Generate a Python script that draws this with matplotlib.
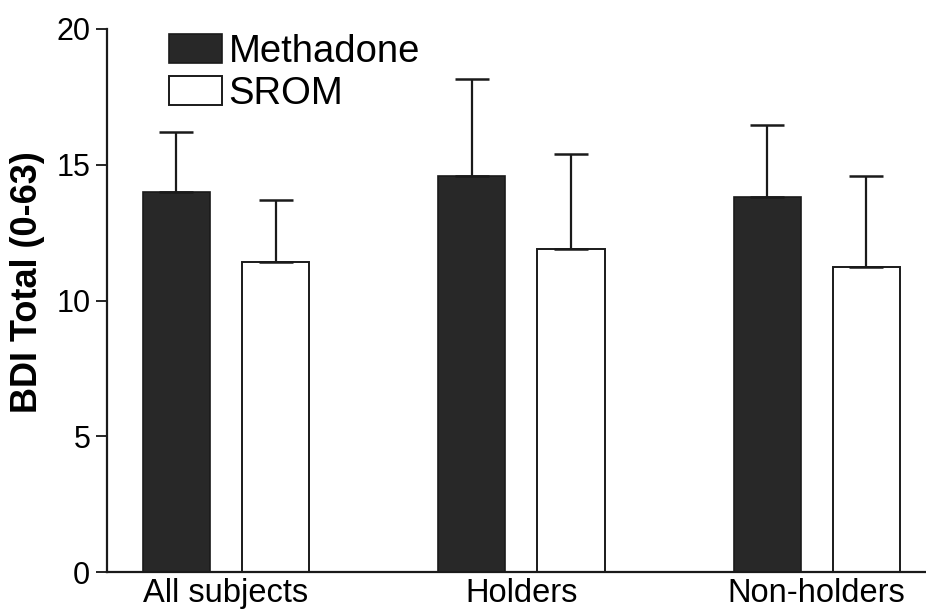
import numpy as np
import matplotlib.pyplot as plt

plt.rcParams['font.family'] = ['Liberation Sans', 'DejaVu Sans']

groups = ["All subjects", "Holders", "Non-holders"]
methadone = [14.0, 14.6, 13.8]
methadone_err = [2.2, 3.55, 2.65]
srom = [11.4, 11.9, 11.25]
srom_err = [2.3, 3.5, 3.35]

x = np.arange(len(groups))
width = 0.227
off = 0.168

fig = plt.figure(figsize=(9.26, 6.12), dpi=100)
ax = fig.add_axes([107 / 926, 1 - 572 / 612, 1 - 107 / 926, (572 - 29) / 612])

err_kw = dict(elinewidth=1.6, capthick=1.8, capsize=12.5, ecolor="#1a1a1a")
ax.bar(x - off, methadone, width, color="#282828", edgecolor="#1a1a1a", linewidth=1.2,
       yerr=[np.zeros(3), methadone_err], error_kw=err_kw, label="Methadone")
ax.bar(x + off, srom, width, color="white", edgecolor="#1a1a1a", linewidth=1.4,
       yerr=[np.zeros(3), srom_err], error_kw=err_kw, label="SROM")

ax.set_xlim(-0.403, 2.37)
ax.set_ylim(0, 20)
ax.set_yticks([0, 5, 10, 15, 20])
ax.set_xticks(x)
ax.set_xticklabels(groups, fontsize=23.5)
ax.tick_params(axis="x", length=0, pad=4)
ax.tick_params(axis="y", labelsize=22, length=8, width=1.2, pad=4)
for s in ["top", "right"]:
    ax.spines[s].set_visible(False)
for s in ["left", "bottom"]:
    ax.spines[s].set_linewidth(1.6)
    ax.spines[s].set_color("#1a1a1a")

# y label placed in figure pixels so it is not cut at the left edge
fig.text(28 / 926, 1 - 282 / 612, "BDI Total (0-63)", fontsize=26, fontweight="bold",
         rotation=90, ha="center", va="center")

fig.legend(loc="upper left", bbox_to_anchor=(169 / 926, 1 - 34 / 612), frameon=False,
           fontsize=27.5, handlelength=1.38, handleheight=0.78, handletextpad=0.18,
           labelspacing=0.15, borderpad=0, borderaxespad=0)

fig.savefig("out.png", dpi=100)
